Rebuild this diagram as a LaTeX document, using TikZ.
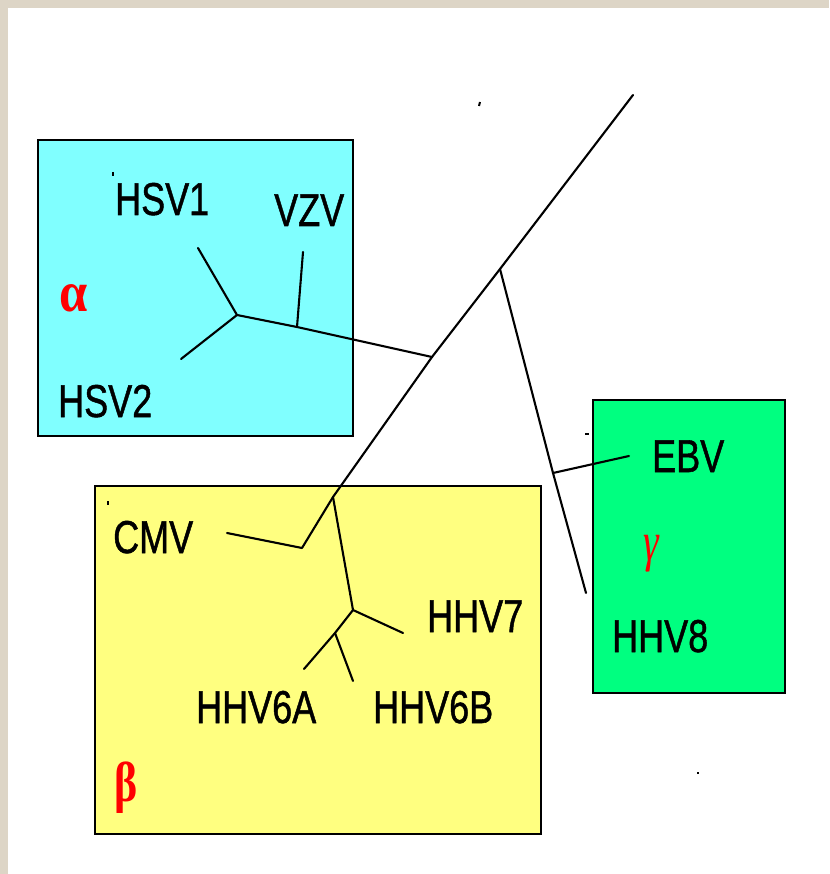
\documentclass[tikz,border=0pt]{standalone}
\usepackage{fontspec}
\setmainfont{Liberation Sans}[FakeBold=1.2]
\newfontfamily\labelf{Liberation Sans}[FakeBold=1.2]
\newfontfamily\greekf{Liberation Serif}
\definecolor{bgbeige}{HTML}{DDD5C6}
\definecolor{alphabox}{HTML}{80FFFF}
\definecolor{betabox}{HTML}{FFFF80}
\definecolor{gammabox}{HTML}{00FF80}
\definecolor{greekred}{HTML}{FF0000}
\tikzset{
  grpbox/.style={draw=black, line width=2.2pt},
  branch/.style={draw=black, line width=2.1pt, line join=round, line cap=round},
  speck/.style={draw=black, line width=2pt},
  vlabel/.style={anchor=base west, inner sep=0pt, font=\labelf\fontsize{36}{40}\selectfont},
  glabel/.style={inner sep=0pt, text=greekred, font=\greekf\fontsize{44}{48}\selectfont}
}
\newcommand{\tall}[1]{\scalebox{1}[1.28]{#1}}
\begin{document}
\begin{tikzpicture}[x=1pt,y=-1pt]
\useasboundingbox (0,0) rectangle (829,874);
\fill[bgbeige] (0,0) rectangle (829,874);
\fill[white] (8,8) rectangle (829,874);

% group boxes
\node[grpbox, fill=alphabox, anchor=north west, minimum width=315pt, minimum height=296pt, inner sep=0pt] (alpha) at (37,139) {};
\node[grpbox, fill=betabox, anchor=north west, minimum width=446pt, minimum height=348pt, inner sep=0pt] (beta) at (94,485) {};
\node[grpbox, fill=gammabox, anchor=north west, minimum width=192pt, minimum height=293pt, inner sep=0pt] (gamma) at (592,399) {};

% tree coordinates
\coordinate (top) at (633,95);
\coordinate (jg) at (500,269);
\coordinate (ja) at (432,357);
\coordinate (jb) at (333,497);
\coordinate (jv) at (297,327);
\coordinate (jalpha) at (237,315);
\coordinate (eVZV) at (303,252);
\coordinate (eHSV1) at (198,248);
\coordinate (eHSV2) at (181,359);
\coordinate (jgam) at (553,473);
\coordinate (eEBV) at (629,456);
\coordinate (eHHV8) at (586,593);
\coordinate (jc) at (302,548);
\coordinate (eCMV) at (227,533);
\coordinate (j7) at (353,610);
\coordinate (eHHV7) at (403,633);
\coordinate (j6) at (335,633);
\coordinate (e6A) at (304,669);
\coordinate (e6B) at (353,681);

% branches
\draw[branch] (top) -- (jg) -- (ja) -- (jb);
\draw[branch] (ja) -- (jv) -- (jalpha);
\draw[branch] (jv) -- (eVZV);
\draw[branch] (jalpha) -- (eHSV1);
\draw[branch] (jalpha) -- (eHSV2);
\draw[branch] (jg) -- (jgam) -- (eHHV8);
\draw[branch] (jgam) -- (eEBV);
\draw[branch] (jb) -- (jc) -- (eCMV);
\draw[branch] (jb) -- (j7) -- (eHHV7);
\draw[branch] (j7) -- (j6) -- (e6A);
\draw[branch] (j6) -- (e6B);

% small specks
\coordinate (s1a) at (480,102); \coordinate (s1b) at (479,106);
\draw[speck] (s1a) -- (s1b);
\coordinate (s2a) at (113,172); \coordinate (s2b) at (113,176);
\draw[speck] (s2a) -- (s2b);
\coordinate (s3a) at (108,501); \coordinate (s3b) at (108,505);
\draw[speck] (s3a) -- (s3b);
\coordinate (s4a) at (585,434); \coordinate (s4b) at (589,434);
\draw[speck] (s4a) -- (s4b);
\coordinate (s5a) at (697,773); \coordinate (s5b) at (699,773);
\draw[speck] (s5a) -- (s5b);

% labels
\node[vlabel] (HSV1) at (115,215) {\tall{HSV1}};
\node[vlabel] (VZV) at (274,226) {\tall{VZV}};
\node[vlabel] (HSV2) at (58,417) {\tall{HSV2}};
\node[vlabel] (CMV) at (113,553) {\tall{CMV}};
\node[vlabel] (HHV7) at (427,632) {\tall{HHV7}};
\node[vlabel] (HHV6A) at (196,723) {\tall{HHV6A}};
\node[vlabel] (HHV6B) at (373,723) {\tall{HHV6B}};
\node[vlabel] (EBV) at (652,472) {\tall{EBV}};
\node[vlabel] (HHV8) at (612,652) {\tall{HHV8}};

\node[glabel] (lalpha) at (74,298) {\scalebox{1.15}[1.3]{\bfseries α}};
\node[glabel] (lbeta) at (126,788) {\tall{\bfseries β}};
\node[glabel] (lgamma) at (651,554) {\scalebox{0.9}[1.25]{\itshape γ}};
\end{tikzpicture}
\end{document}
